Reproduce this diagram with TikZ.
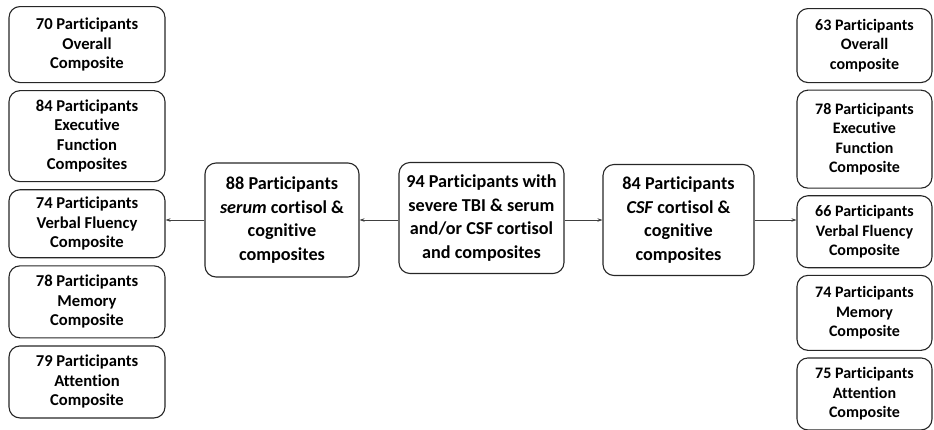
\documentclass[tikz,border=0pt]{standalone}
\usepackage{fontspec}
\setmainfont{Carlito}[Ligatures=NoCommon]
\usetikzlibrary{arrows.meta, positioning}

\begin{document}
\begin{tikzpicture}[
    x=1pt, y=1pt,
    node distance=7pt,
    every node/.style={rectangle, draw=black!85, rounded corners=11pt, line width=1.1pt, align=center, inner sep=0pt, font=\bfseries\fontsize{16}{19.5}\selectfont},
    leftbox/.style={minimum width=156pt, font=\bfseries\fontsize{16.6}{19.5}\selectfont},
    rightbox/.style={minimum width=135pt},
    mainbox/.style={font=\bfseries\fontsize{18.2}{23.5}\selectfont, minimum height=111pt},
    >={Stealth[length=5pt, width=3.5pt]}
]
\useasboundingbox (0,0) rectangle (934,-429);

% Nodes
\node (cohort) [mainbox, minimum width=165pt] at (481.5,-218) {94 Participants with\\severe TBI \& serum\\and/or CSF cortisol\\and composites};
\node (serum) [mainbox, minimum width=154pt, minimum height=114pt] at (282,-220) {88 Participants\\\textit{serum} cortisol \&\\cognitive\\composites};
\node (csf) [mainbox, minimum width=151pt] at (678.5,-220) {84 Participants\\\textit{CSF} cortisol \&\\cognitive\\composites};

% left column (serum)
\node (soverall) [leftbox, minimum height=76pt, anchor=north] at (87,-6) {70 Participants\\Overall\\Composite};
\node (sexec) [leftbox, minimum height=91pt, below=of soverall] {84 Participants\\Executive\\Function\\Composites};
\node (sfluency) [leftbox, minimum height=68pt, below=of sexec] {74 Participants\\Verbal Fluency\\Composite};
\node (smemory) [leftbox, minimum height=72pt, below=of sfluency] {78 Participants\\Memory\\Composite};
\node (sattention) [leftbox, minimum height=72pt, below=of smemory] {79 Participants\\Attention\\Composite};

% right column (CSF)
\node (coverall) [rightbox, minimum height=74pt, anchor=north] at (864.5,-8) {63 Participants\\Overall\\composite};
\node (cexec) [rightbox, minimum height=98pt, below=6.5pt of coverall] {78 Participants\\Executive\\Function\\Composite};
\node (cfluency) [rightbox, minimum height=72pt, below=6.5pt of cexec] {66 Participants\\Verbal Fluency\\Composite};
\node (cmemory) [rightbox, minimum height=75pt, below=6.5pt of cfluency] {74 Participants\\Memory\\Composite};
\node (cattention) [rightbox, minimum height=72pt, below=6.5pt of cmemory] {75 Participants\\Attention\\Composite};

% Arrows
\draw [->, black!75, line width=0.7pt] (cohort.west |- serum.east) -- (serum.east);
\draw [->, black!75, line width=0.7pt] (serum.west) -- (serum.west -| sfluency.east);
\draw [->, black!75, line width=0.7pt] (cohort.east |- csf.west) -- (csf.west);
\draw [->, black!75, line width=0.7pt] (csf.east) -- (csf.east -| cfluency.west);

\end{tikzpicture}
\end{document}
